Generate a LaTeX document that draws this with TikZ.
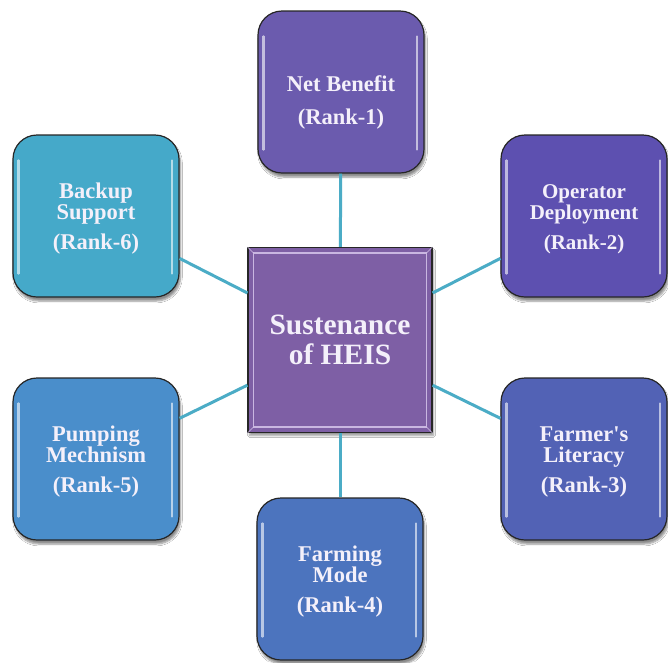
\documentclass[tikz,border=0pt]{standalone}
\usepackage{fontspec}
\setmainfont{Liberation Serif}[Ligatures=TeXOff]
\usetikzlibrary{shadows.blur}
\definecolor{connc}{HTML}{4BACC6}
\definecolor{textc}{HTML}{F4F0FA}
\definecolor{cnb}{HTML}{6B5BAE}
\definecolor{cod}{HTML}{5D50B0}
\definecolor{cfl}{HTML}{5262B5}
\definecolor{cfm}{HTML}{4C74BE}
\definecolor{cpm}{HTML}{4A8ECB}
\definecolor{cbs}{HTML}{45A9C9}
\definecolor{cctr}{HTML}{7E5FA5}
\definecolor{bevel}{HTML}{DCCCF0}
\newcommand\hlbox[1]{%
  \draw[hlline] ([shift={(6,26)}]#1.north west) -- ([shift={(6,-24)}]#1.south west);
  \draw[hlline] ([shift={(-8,26)}]#1.north east) -- ([shift={(-8,-24)}]#1.south east);}
\begin{document}
\begin{tikzpicture}[x=1pt,y=-1pt]
\tikzset{
  rankbox/.style={draw=black!85, line width=1.2pt, rounded corners=24pt,
    minimum width=166pt, minimum height=162pt, text=textc,
    font=\bfseries\fontsize{22.5}{21}\selectfont, align=center, inner sep=0pt,
    blur shadow={shadow xshift=1.5pt, shadow yshift=-4pt, shadow blur steps=6, shadow opacity=45}},
  ctrbox/.style={draw=black!85, line width=1.2pt, fill=cctr,
    minimum width=184pt, minimum height=185pt, text=textc,
    font=\bfseries\fontsize{29.5}{30}\selectfont, align=center, inner sep=0pt,
    blur shadow={shadow xshift=1.5pt, shadow yshift=-3pt, shadow blur steps=6, shadow opacity=40}},
  hlline/.style={white, opacity=0.6, line width=2.2pt, line cap=round},
  connline/.style={connc, line width=3pt}
}
\fill[white] (0,0) rectangle (668,662);
\useasboundingbox (0,0) rectangle (668,662);

\node[ctrbox] (c) at (340,340) {Sustenance\\of HEIS};
\draw[bevel, line width=1.4pt, opacity=0.8]
  ([shift={(6,6)}]c.north west) rectangle ([shift={(-6,-6)}]c.south east);
\draw[bevel, line width=0.8pt, opacity=0.6]
  (c.north west) -- ([shift={(6,6)}]c.north west)
  (c.north east) -- ([shift={(-6,6)}]c.north east)
  (c.south west) -- ([shift={(6,-6)}]c.south west)
  (c.south east) -- ([shift={(-6,-6)}]c.south east);

\node[rankbox, fill=cnb] (nb) at (341,92) {\rule{0pt}{36pt}Net Benefit\\[12pt](Rank-1)};
\node[rankbox, fill=cod, font=\bfseries\fontsize{21}{21}\selectfont] (od) at (584,216) {\rule{0pt}{21pt}Operator\\Deployment\\[9pt](Rank-2)};
\node[rankbox, fill=cfl] (fl) at (584,459) {\rule{0pt}{21pt}Farmer's\\Literacy\\[9pt](Rank-3)};
\node[rankbox, fill=cfm] (fm) at (340,579) {\rule{0pt}{21pt}Farming\\Mode\\[9pt](Rank-4)};
\node[rankbox, fill=cpm] (pm) at (96,459) {\rule{0pt}{21pt}Pumping\\Mechnism\\[9pt](Rank-5)};
\node[rankbox, fill=cbs] (bs) at (96,216) {\rule{0pt}{21pt}Backup\\Support\\[9pt](Rank-6)};

\hlbox{nb}\hlbox{od}\hlbox{fl}\hlbox{fm}\hlbox{pm}\hlbox{bs}

\draw[connline] (c) -- (nb);
\draw[connline] (c) -- (od);
\draw[connline] (c) -- (fl);
\draw[connline] (c) -- (fm);
\draw[connline] (c) -- (pm);
\draw[connline] (c) -- (bs);
\end{tikzpicture}
\end{document}
